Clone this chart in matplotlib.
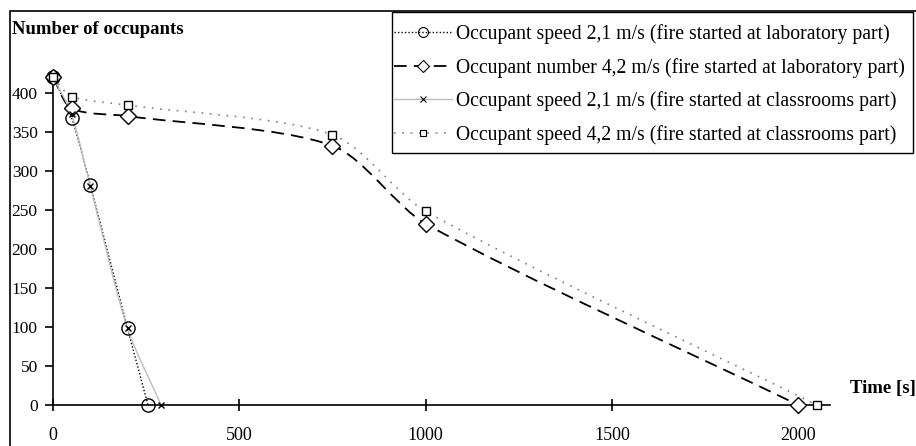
import numpy as np
import matplotlib
matplotlib.use("Agg")
import matplotlib.pyplot as plt
from matplotlib.path import Path
from matplotlib.patches import PathPatch, Rectangle
from matplotlib.lines import Line2D

# data
t_lab_21 = [0, 50, 100, 200, 255]
n_lab_21 = [420, 368, 282, 98, 0]
t_lab_42 = [0, 50, 200, 750, 1000, 2000]
n_lab_42 = [420, 380, 370, 332, 232, 0]
t_cls_21 = [0, 50, 100, 200, 290]
n_cls_21 = [420, 372, 280, 98, 0]
t_cls_42 = [0, 50, 200, 750, 1000, 2050]
n_cls_42 = [420, 395, 384, 346, 248, 0]

labels = ["Occupant speed 2,1 m/s (fire started at laboratory part)",
          "Occupant number 4,2 m/s (fire started at laboratory part)",
          "Occupant speed 2,1 m/s (fire started at classrooms part)",
          "Occupant speed 4,2 m/s (fire started at classrooms part)"]
xticks = [0, 500, 1000, 1500, 2000]
yticks = list(range(0, 401, 50))

plt.rcParams['font.family'] = ['Liberation Serif', 'DejaVu Serif']

W, H = 916, 446
XMAX, YMAX = 2085, 420
AX_W, AX_H = 777, 328  # axes size in px


def smooth_path(xs, ys, k=0.27):
    # smoothed line like excel: tangent from neighbours, length from segment
    kx, ky = AX_W / XMAX, AX_H / YMAX
    pts = np.column_stack([np.array(xs) * kx, np.array(ys) * ky]).astype(float)
    n = len(pts)
    tang = []
    for i in range(n):
        d = pts[min(i + 1, n - 1)] - pts[max(i - 1, 0)]
        tang.append(d / np.hypot(*d))
    verts = [pts[0]]
    codes = [Path.MOVETO]
    for i in range(n - 1):
        L = np.hypot(*(pts[i + 1] - pts[i])) * k
        verts += [pts[i] + tang[i] * L, pts[i + 1] - tang[i + 1] * L, pts[i + 1]]
        codes += [Path.CURVE4] * 3
    verts = np.array(verts) / [kx, ky]
    return Path(verts, codes)


fig = plt.figure(figsize=(W / 100, H / 100), dpi=100)
ax = fig.add_axes([53 / W, 1 - 405 / H, AX_W / W, AX_H / H])

styles = [
    dict(x=t_lab_21, y=n_lab_21, color='black', ls=(0, (1, 1.5)), lw=1.0,
         marker='o', ms=9.5, mfc='none', mec='black'),
    dict(x=t_lab_42, y=n_lab_42, color='black', ls=(0, (7, 4)), lw=1.3,
         marker='D', ms=8.5, mfc='white', mec='black'),
    dict(x=t_cls_21, y=n_cls_21, color='#bdbdbd', ls='-', lw=1.0,
         marker='x', ms=5, mfc='black', mec='black'),
    dict(x=t_cls_42, y=n_cls_42, color='#7f7f7f', ls=(0, (1, 4)), lw=1.2,
         marker='s', ms=6, mfc='white', mec='black'),
]

handles = []
for s in styles:
    ax.add_patch(PathPatch(smooth_path(s['x'], s['y']), fill=False,
                           edgecolor=s['color'], linestyle=s['ls'],
                           linewidth=s['lw'], clip_on=False, zorder=2))
    ax.plot(s['x'], s['y'], linestyle='none', marker=s['marker'],
            markersize=s['ms'], markerfacecolor=s['mfc'],
            markeredgecolor=s['mec'], markeredgewidth=1.0,
            clip_on=False, zorder=3)
    handles.append(Line2D([], [], color=s['color'], linestyle=s['ls'],
                          linewidth=s['lw'], marker=s['marker'],
                          markersize=s['ms'] * 0.75, markerfacecolor=s['mfc'],
                          markeredgecolor=s['mec'], markeredgewidth=0.8))

ax.set_xlim(0, XMAX)
ax.set_ylim(0, YMAX)
ax.set_xticks(xticks)
ax.set_yticks(yticks)
ax.spines['top'].set_visible(False)
ax.spines['right'].set_visible(False)
for sp in ('left', 'bottom'):
    ax.spines[sp].set_linewidth(1.2)
ax.tick_params(axis='y', direction='out', length=6, width=1.2, pad=5,
               labelsize=12.5)
ax.tick_params(axis='x', direction='inout', length=8, width=1.2, pad=12,
               labelsize=13)
ax.patch.set_visible(False)

fig.text(12 / W, 1 - 29 / H, "Number of occupants", fontsize=13.5,
         fontweight='bold', ha='left', va='center')
fig.text(850 / W, 1 - 388 / H, "Time [s]", fontsize=13.5,
         fontweight='bold', ha='left', va='center')

# legend box drawn separately: tight at the sides, roomier at top/bottom
fig.patches.append(Rectangle((392 / W, 1 - 153 / H), 521 / W, 141 / H,
                             transform=fig.transFigure, facecolor='white',
                             edgecolor='black', linewidth=1.0, zorder=4))
leg = fig.legend(handles, labels, loc='upper left',
                 bbox_to_anchor=(394 / W, 1 - 24 / H),
                 bbox_transform=fig.transFigure, borderaxespad=0,
                 fontsize=14.2, handlelength=2.95, handletextpad=0.2,
                 labelspacing=0.7, borderpad=0, frameon=False, numpoints=1)
leg.set_zorder(5)

fig.patches.append(Rectangle((10 / W, -0.1), 1.2, 1 - 11 / H + 0.1,
                             transform=fig.transFigure, fill=False,
                             edgecolor='black', linewidth=1.2))

fig.savefig("out.png", dpi=100)
